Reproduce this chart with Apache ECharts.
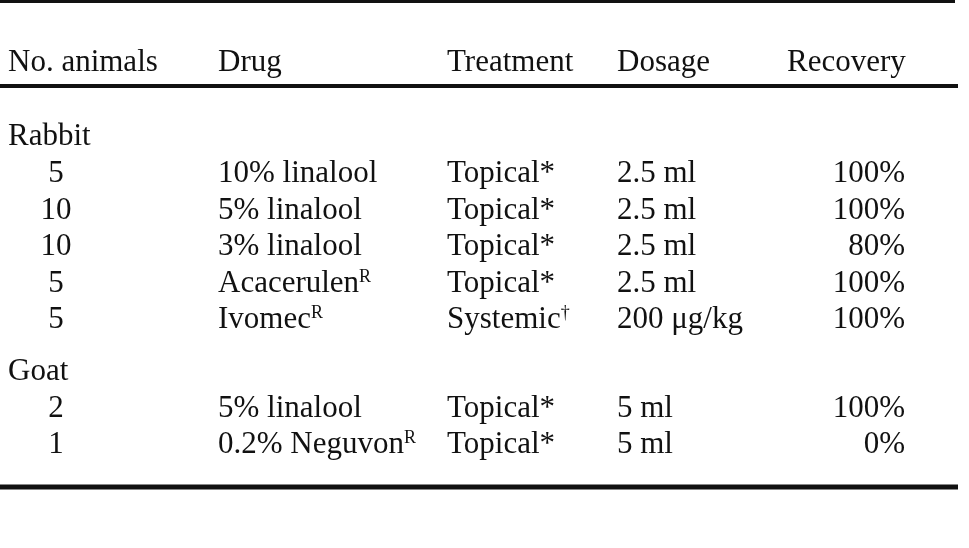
<!DOCTYPE html>
<html><head><meta charset="utf-8">
<script src="https://cdn.jsdelivr.net/npm/echarts@6/dist/echarts.min.js"></script>
<style>html,body{margin:0;background:#fff}#c{width:969px;height:548px}</style>
</head><body><div id="c"></div>
<script>
const headers = ["No. animals","Drug","Treatment","Dosage","Recovery"];
const groups = ["Rabbit","Goat"];
const rabbitRows = [
  ["5","10% linalool","Topical*","2.5 ml","100%"],
  ["10","5% linalool","Topical*","2.5 ml","100%"],
  ["10","3% linalool","Topical*","2.5 ml","80%"],
  ["5","Acacerulen{s|R}","Topical*","2.5 ml","100%"],
  ["5","Ivomec{s|R}","Systemic{s|†}","200 μg/kg","100%"]
];
const goatRows = [
  ["2","5% linalool","Topical*","5 ml","100%"],
  ["1","0.2% Neguvon{s|R}","Topical*","5 ml","0%"]
];
const colX = [56, 218, 447, 617, 905];
const colAlign = ["center","left","left","left","right"];
const font = '"Liberation Serif","DejaVu Serif",serif';
const fs = 31;
const rich = {s:{fontSize:18, verticalAlign:'top', padding:[0,0,12,0], fontFamily:font, fill:'#111'}};
const g = [];
function txt(x,y,t,align){ g.push({type:'text',x:x,y:y,style:{text:t,fill:'#111',font:fs+'px '+font,align:align,verticalAlign:'middle',rich:rich}}); }
function line(y,w,x1,x2){ g.push({type:'rect',shape:{x:x1,y:y-w/2,width:x2-x1,height:w},style:{fill:'#111'}}); }
line(1,4,0,955);
headers.forEach((h,i)=>txt(i===0?8:(i===4?787:colX[i]),63,h,'left'));
line(86,4,0,958);
let y=137;
txt(8,y,groups[0],'left'); y+=37;
rabbitRows.forEach(r=>{ r.forEach((c,i)=>txt(colX[i],y,c,colAlign[i])); y+=36.5; });
y=372;
txt(8,y,groups[1],'left'); y+=36.5;
goatRows.forEach(r=>{ r.forEach((c,i)=>txt(colX[i],y,c,colAlign[i])); y+=36.5; });
line(487,5,0,958);
const chart = echarts.init(document.getElementById('c'));
chart.setOption({backgroundColor:'#fff',graphic:g});
</script></body></html>
